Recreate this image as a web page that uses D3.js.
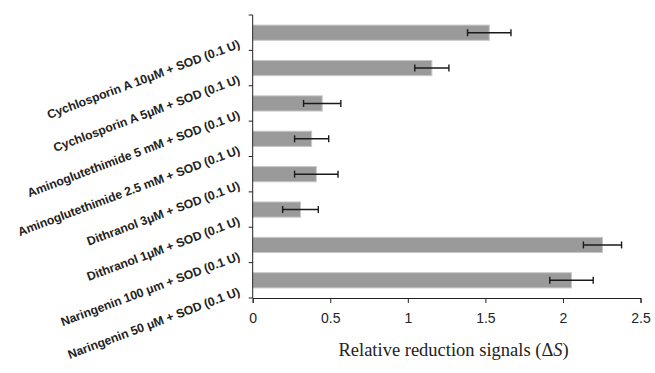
<!DOCTYPE html>
<html>
<head>
<meta charset="utf-8">
<script src="https://cdn.jsdelivr.net/npm/d3@7"></script>
<style>
  body { margin: 0; background: #fff; }
</style>
</head>
<body>
<div id="chart"></div>
<script>
const width = 655, height = 373, margin = {top: 15, right: 14.5, bottom: 75, left: 252.7};

const categories = [
  "Cychlosporin A 10μM + SOD (0.1 U)",
  "Cychlosporin A 5μM + SOD (0.1 U)",
  "Aminoglutethimide 5 mM + SOD (0.1 U)",
  "Aminoglutethimide 2.5 mM + SOD (0.1 U)",
  "Dithranol 3μM + SOD (0.1 U)",
  "Dithranol 1μM + SOD (0.1 U)",
  "Naringenin  100 μm + SOD (0.1 U)",
  "Naringenin  50 μM + SOD (0.1 U)"
];
const values = [1.525, 1.155, 0.448, 0.38, 0.41, 0.308, 2.255, 2.055];
const errors = [0.14, 0.11, 0.12, 0.11, 0.14, 0.115, 0.123, 0.14];
const xTicks = [0, 0.5, 1, 1.5, 2, 2.5];

const svg = d3.select("#chart")
  .append("svg")
  .attr("width", width)
  .attr("height", height);

const x = d3.scaleLinear()
    .domain([0, 2.5])
    .range([margin.left, width - margin.right]);

const y = d3.scaleBand()
    .domain(categories)
    .range([margin.top, height - margin.bottom]);

const barH = y.bandwidth() * 0.43;

// bars
svg.append("g").selectAll("rect")
  .data(values)
  .join("rect")
    .attr("x", x(0))
    .attr("y", (d, i) => y(categories[i]) + (y.bandwidth() - barH) / 2)
    .attr("width", d => x(d) - x(0))
    .attr("height", barH)
    .attr("fill", "#9a9a9a")
    .attr("stroke", "#c8c8c8")
    .attr("stroke-width", 1);

// error bars
const eb = svg.append("g").attr("stroke", "#1a1a1a").attr("stroke-width", 1.4);
values.forEach((v, i) => {
  const cy = y(categories[i]) + y.bandwidth() / 2;
  eb.append("line").attr("x1", x(v - errors[i])).attr("x2", x(v + errors[i])).attr("y1", cy).attr("y2", cy);
  eb.append("line").attr("x1", x(v - errors[i])).attr("x2", x(v - errors[i])).attr("y1", cy - 3.5).attr("y2", cy + 3.5);
  eb.append("line").attr("x1", x(v + errors[i])).attr("x2", x(v + errors[i])).attr("y1", cy - 3.5).attr("y2", cy + 3.5);
});

// left axis with ticks at band boundaries
const yAxis = svg.append("g").attr("stroke", "#222").attr("stroke-width", 1);
yAxis.append("line")
  .attr("x1", x(0)).attr("x2", x(0))
  .attr("y1", y.range()[0]).attr("y2", y.range()[1]);
categories.forEach(c => {
  yAxis.append("line").attr("x1", x(0) - 4).attr("x2", x(0)).attr("y1", y(c)).attr("y2", y(c));
});
yAxis.append("line").attr("x1", x(0) - 4).attr("x2", x(0))
  .attr("y1", y.range()[1]).attr("y2", y.range()[1]);

// category labels, rotated
svg.append("g").selectAll("text")
  .data(categories)
  .join("text")
    .attr("transform", d => `translate(${x(0) - 12},${y(d) + y.bandwidth() - 3}) rotate(-20.5)`)
    .attr("text-anchor", "end")
    .attr("font-family", "Liberation Sans, Arial, sans-serif")
    .attr("font-weight", "bold")
    .attr("font-size", 12.2)
    .attr("fill", "#222")
    .text(d => d);

// bottom axis
const xAxis = svg.append("g")
  .attr("transform", `translate(0,${height - margin.bottom})`)
  .call(d3.axisBottom(x).tickValues(xTicks).tickFormat(d3.format("")).tickSizeOuter(0).tickSize(5));
xAxis.select(".domain").attr("stroke", "#222");
xAxis.selectAll(".tick line").attr("stroke", "#222");
xAxis.selectAll(".tick text")
  .attr("font-family", "Liberation Sans, Arial, sans-serif")
  .attr("font-size", 14)
  .attr("fill", "#222")
  .attr("dy", "1.2em");

// axis title
const title = svg.append("text")
  .attr("x", (x(0) + x(2.5)) / 2 + 7)
  .attr("y", height - 17)
  .attr("text-anchor", "middle")
  .attr("font-family", "Liberation Serif, Times New Roman, serif")
  .attr("font-size", 18.5)
  .attr("fill", "#222");
title.append("tspan").text("Relative reduction signals (Δ");
title.append("tspan").attr("font-style", "italic").text("S");
title.append("tspan").text(")");
</script>
</body>
</html>
